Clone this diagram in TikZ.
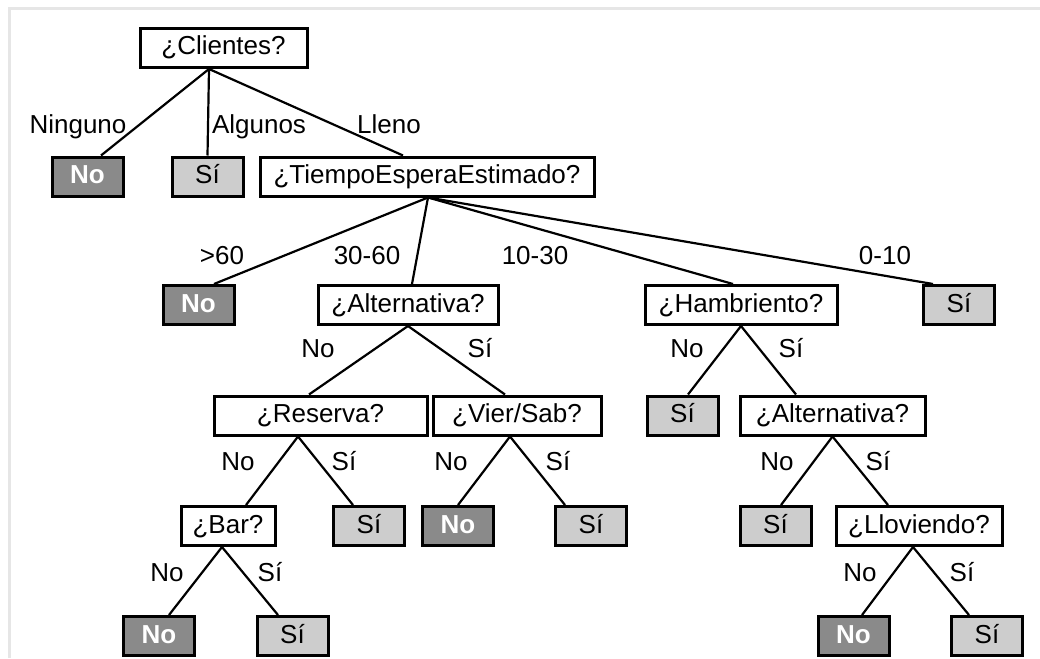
\documentclass[tikz,border=0pt]{standalone}
\usepackage{fontspec}
\setmainfont{Liberation Sans}
\definecolor{leafno}{HTML}{8A8A8A}
\definecolor{leafsi}{HTML}{CDCDCD}
\definecolor{framegray}{HTML}{E6E6E6}
\begin{document}
\begin{tikzpicture}[x=1pt,y=-1pt,
  txt/.style={font=\fontsize{26}{30}\selectfont, text height=19pt, text depth=5pt, inner sep=0pt},
  box/.style={txt, draw=black, line width=3pt, minimum height=39pt, anchor=center},
  test/.style={box, fill=white},
  yes/.style={box, fill=leafsi, minimum width=71pt},
  no/.style={box, fill=leafno, text=white, minimum width=71pt, font=\fontsize{26}{30}\selectfont\bfseries},
  lab/.style={txt},
  edge/.style={line width=2.2pt, black}]
\useasboundingbox (0,0) rectangle (1040,658);
% thin frame along the top and left edges
\draw[framegray, line width=3pt] (8,9) -- (1040,9);
\draw[framegray, line width=3pt] (9,8) -- (9,658);

% level 1
\node[test, minimum width=167pt] (cl) at (223.5,48) {¿Clientes?};
% level 2
\node[no]  (n1) at (87.5,176.5) {No};
\node[yes] (s1) at (207.5,176.5) {Sí};
\node[test, minimum width=334pt] (tm) at (427,176.5) {¿TiempoEsperaEstimado?};
% level 3
\node[no]  (n2) at (198.5,305) {No};
\node[test, minimum width=180pt] (al) at (408,305) {¿Alternativa?};
\node[test, minimum width=192pt] (hb) at (741,305) {¿Hambriento?};
\node[yes] (s2) at (959,305) {Sí};
% level 4
\node[test, minimum width=213pt] (rs) at (320.5,415.5) {¿Reserva?};
\node[test, minimum width=168pt] (vs) at (517,415.5) {¿Vier/Sab?};
\node[yes] (s3) at (682.5,415.5) {Sí};
\node[test, minimum width=185pt] (al2) at (832.5,415.5) {¿Alternativa?};
% level 5
\node[test, minimum width=94pt] (br) at (228,526) {¿Bar?};
\node[yes] (s4) at (369,526) {Sí};
\node[no]  (n3) at (458,526) {No};
\node[yes] (s5) at (591,526) {Sí};
\node[yes] (s6) at (775.5,526) {Sí};
\node[test, minimum width=166pt] (ll) at (919,526) {¿Lloviendo?};
% level 6
\node[no]  (n4) at (159,636) {No};
\node[yes] (s7) at (292.5,636) {Sí};
\node[no]  (n5) at (853.5,636) {No};
\node[yes] (s8) at (987,636) {Sí};

% branch hubs on the lower edge of each test
\coordinate (hcl) at ([xshift=-14.5pt]cl.south);
\coordinate (htm) at ([xshift=1pt]tm.south);
\coordinate (hal) at (al.south);
\coordinate (hhb) at (hb.south);
\coordinate (hrs) at ([xshift=-22.5pt]rs.south);
\coordinate (hvs) at ([xshift=-7pt]vs.south);
\coordinate (hal2) at (al2.south);
\coordinate (hbr) at ([xshift=-6pt]br.south);
\coordinate (hll) at ([xshift=-6pt]ll.south);

% branches
\draw[edge] (hcl) -- ([xshift=13.5pt]n1.north);
\draw[edge] (hcl) -- (s1.north);
\draw[edge] (hcl) -- ([xshift=-24pt]tm.north);
\draw[edge] (htm) -- ([xshift=15.5pt]n2.north);
\draw[edge] (htm) -- ([xshift=4pt]al.north);
\draw[edge] (htm) -- ([xshift=-8pt]hb.north);
\draw[edge] (htm) -- ([xshift=-26pt]s2.north);
\draw[edge] (hal) -- ([xshift=-11.5pt]rs.north);
\draw[edge] (hal) -- ([xshift=-12pt]vs.north);
\draw[edge] (hhb) -- ([xshift=5.5pt]s3.north);
\draw[edge] (hhb) -- ([xshift=-36.5pt]al2.north);
\draw[edge] (hrs) -- ([xshift=18pt]br.north);
\draw[edge] (hrs) -- ([xshift=-16pt]s4.north);
\draw[edge] (hvs) -- (n3.north);
\draw[edge] (hvs) -- ([xshift=-26pt]s5.north);
\draw[edge] (hal2) -- ([xshift=5.5pt]s6.north);
\draw[edge] (hal2) -- ([xshift=-31pt]ll.north);
\draw[edge] (hbr) -- ([xshift=10pt]n4.north);
\draw[edge] (hbr) -- ([xshift=-14.5pt]s7.north);
\draw[edge] (hll) -- ([xshift=8.5pt]n5.north);
\draw[edge] (hll) -- ([xshift=-18pt]s8.north);

% branch labels
\node[lab] (lninguno) at (78,126) {Ninguno};
\node[lab] (lalgunos) at (259,126) {Algunos};
\node[lab] (llleno) at (389,126) {Lleno};
\node[lab] (lgt60) at (222,257) {>60};
\node[lab] (l3060) at (367,257) {30-60};
\node[lab] (l1030) at (535,257) {10-30};
\node[lab] (l010) at (885,257) {0-10};
\node[lab] (lalno) at (318,350) {No};
\node[lab] (lalsi) at (480,350) {Sí};
\node[lab] (lhbno) at (687,350) {No};
\node[lab] (lhbsi) at (791,350) {Sí};
\node[lab] (lrsno) at (238,463) {No};
\node[lab] (lrssi) at (344,463) {Sí};
\node[lab] (lvsno) at (451,463) {No};
\node[lab] (lvssi) at (558,463) {Sí};
\node[lab] (lal2no) at (777,463) {No};
\node[lab] (lal2si) at (878,463) {Sí};
\node[lab] (lbrno) at (167,574) {No};
\node[lab] (lbrsi) at (270,574) {Sí};
\node[lab] (lllno) at (860,574) {No};
\node[lab] (lllsi) at (962,574) {Sí};
\end{tikzpicture}
\end{document}
